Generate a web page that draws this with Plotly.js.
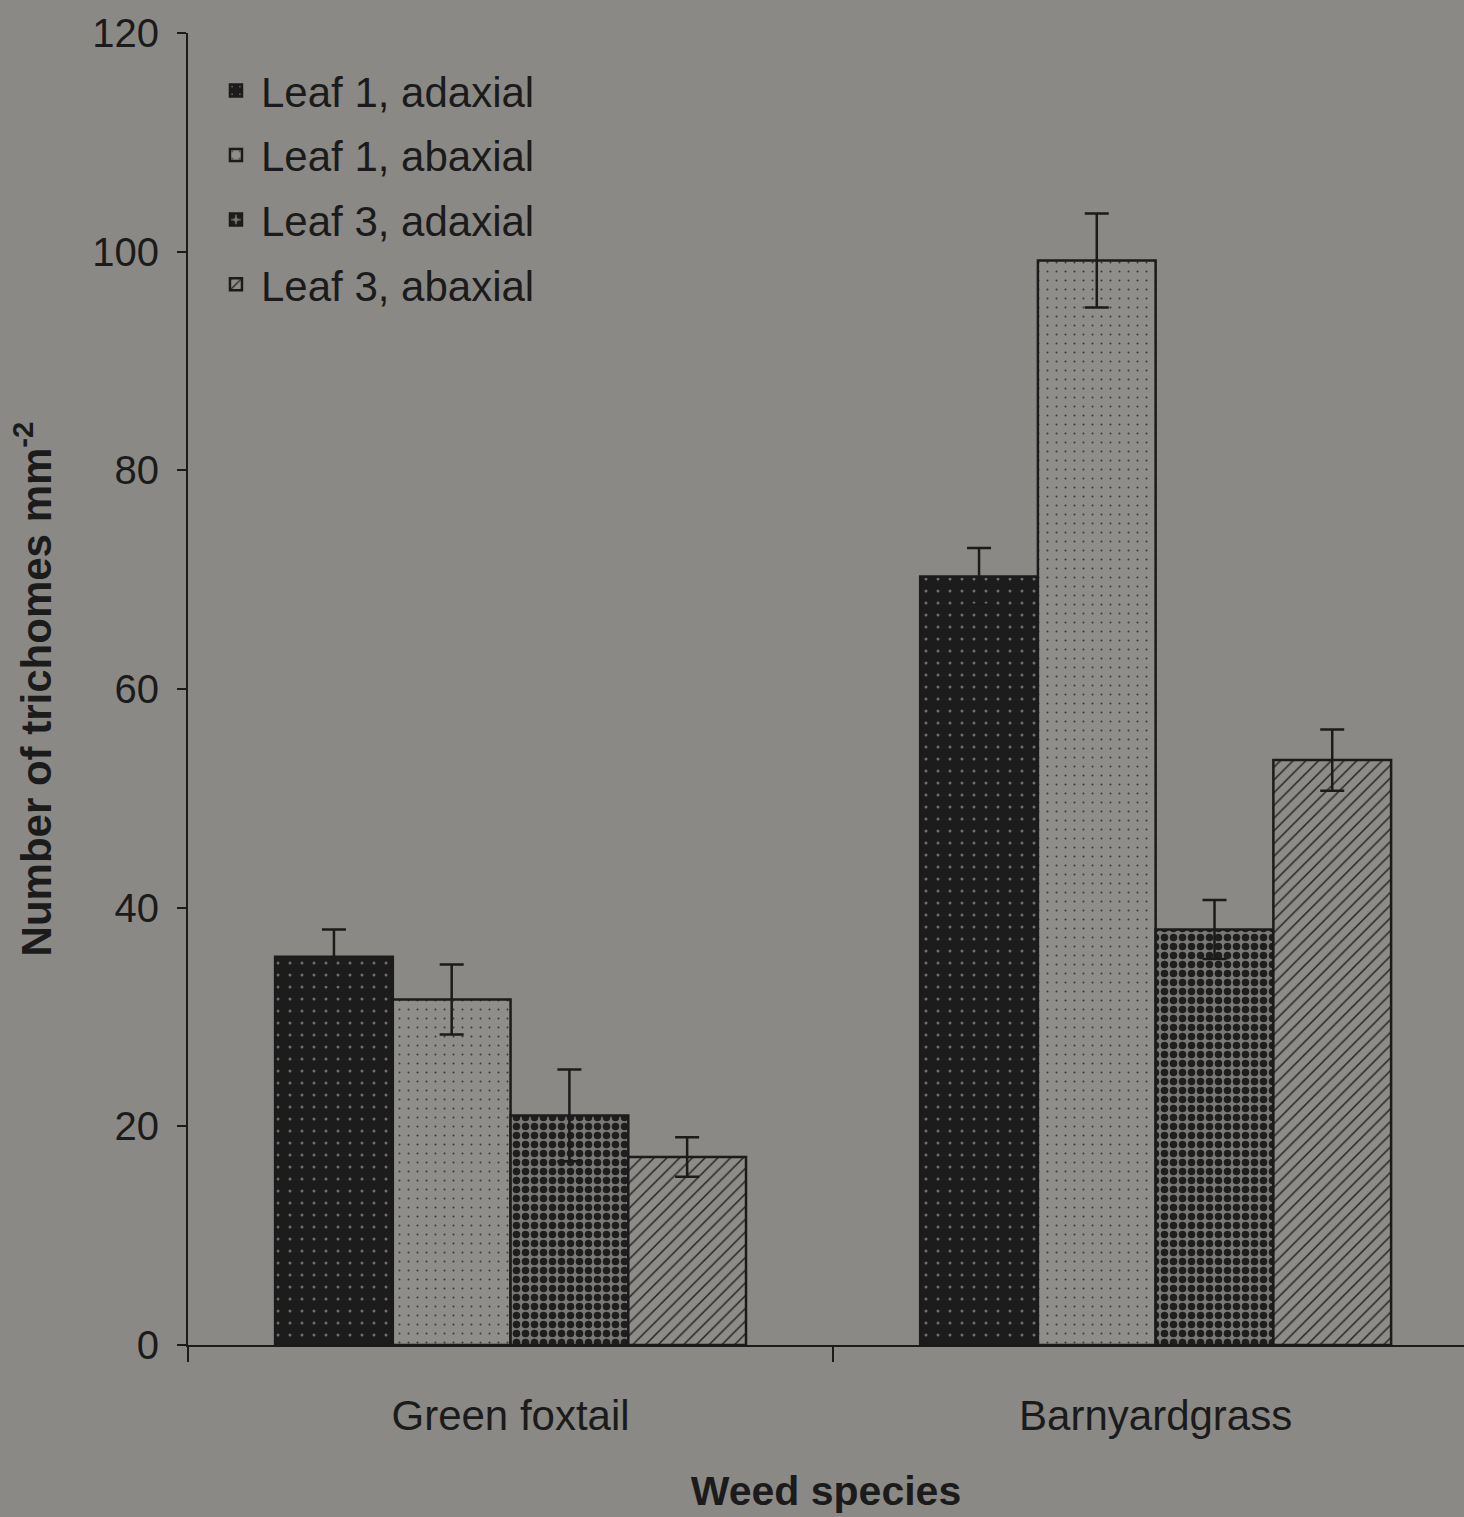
<!DOCTYPE html>
<html>
<head>
<meta charset="utf-8">
<script src="https://cdn.plot.ly/plotly-3.0.1.min.js"></script>
<style>
  html, body { margin: 0; padding: 0; background: #8b8985; overflow: hidden; }
  #chart { width: 1464px; height: 1517px; }
</style>
</head>
<body>
<div id="chart"></div>
<script>
// Trichome density on the first and third leaf of two grass weeds
const species = ["Green foxtail", "Barnyardgrass"];

const leaf1Adaxial = [35.5, 70.3];
const leaf1Abaxial = [31.6, 99.2];
const leaf3Adaxial = [21.0, 38.0];
const leaf3Abaxial = [17.2, 53.5];

const leaf1AdaxialErr = [2.5, 2.6];
const leaf1AbaxialErr = [3.2, 4.3];
const leaf3AdaxialErr = [4.2, 2.7];
const leaf3AbaxialErr = [1.8, 2.8];

const seriesNames = ["Leaf 1, adaxial", "Leaf 1, abaxial", "Leaf 3, adaxial", "Leaf 3, abaxial"];

const font = "Liberation Sans, Arial, sans-serif";
const ink = "#1b1b1b";
const bg = "#8b8985";

function barTrace(name, values, errs, pattern, group) {
  return {
    type: "bar",
    name: name,
    x: species,
    y: values,
    legendgroup: group,
    marker: {
      color: pattern.bgcolor,
      line: { color: ink, width: 2.5 },
      pattern: pattern
    },
    error_y: {
      type: "data",
      array: errs,
      visible: true,
      color: ink,
      thickness: 2.5,
      width: 12
    },
    hoverinfo: "skip"
  };
}

const traces = [
  barTrace(seriesNames[0], leaf1Adaxial, leaf1AdaxialErr,
    { shape: ".", bgcolor: "#1c1c1c", fgcolor: "#6f6d68", size: 12, solidity: 0.05, fillmode: "replace" }, "g1"),
  barTrace(seriesNames[1], leaf1Abaxial, leaf1AbaxialErr,
    { shape: ".", bgcolor: "#908e8a", fgcolor: "#3a3a3a", size: 9, solidity: 0.04, fillmode: "replace" }, "g2"),
  barTrace(seriesNames[2], leaf3Adaxial, leaf3AdaxialErr,
    { shape: ".", bgcolor: "#7a7874", fgcolor: "#1e1e1e", size: 9, solidity: 0.55, fillmode: "replace" }, "g3"),
  barTrace(seriesNames[3], leaf3Abaxial, leaf3AbaxialErr,
    { shape: "/", bgcolor: "#8e8c88", fgcolor: "#222222", size: 9, solidity: 0.16, fillmode: "replace" }, "g4")
];

const layout = {
  width: 1464,
  height: 1517,
  paper_bgcolor: bg,
  plot_bgcolor: bg,
  margin: { l: 188, r: 0, t: 33, b: 172 },
  barmode: "group",
  bargap: 0.27,
  bargroupgap: 0,
  showlegend: true,
  legend: {
    x: 0.018, y: 0.982, xanchor: "left", yanchor: "top",
    bgcolor: "rgba(0,0,0,0)",
    font: { family: font, size: 42, color: ink },
    traceorder: "grouped",
    tracegroupgap: 7,
    itemwidth: 40
  },
  font: { family: font, color: ink },
  xaxis: {
    type: "category",
    range: [-0.5, 1.478],
    tickson: "boundaries",
    ticks: "outside",
    ticklen: 15,
    tickwidth: 2,
    tickcolor: ink,
    showline: true,
    linecolor: ink,
    linewidth: 2,
    showgrid: false,
    tickfont: { family: font, size: 42, color: ink },
    ticklabelstandoff: 33,
    title: { text: "<b>Weed species</b>", font: { family: font, size: 41, color: ink }, standoff: 38 }
  },
  yaxis: {
    range: [0, 120],
    dtick: 20,
    ticks: "outside",
    ticklen: 9,
    tickwidth: 2,
    tickcolor: ink,
    showline: true,
    linecolor: ink,
    linewidth: 2,
    showgrid: false,
    zeroline: false,
    tickfont: { family: font, size: 40, color: ink },
    ticklabelstandoff: 10,
    title: { text: "<b>Number of trichomes mm<sup>-2</sup></b>", font: { family: font, size: 42, color: ink }, standoff: 28 }
  }
};

Plotly.newPlot("chart", traces, layout, { displayModeBar: false, staticPlot: true });
</script>
</body>
</html>
